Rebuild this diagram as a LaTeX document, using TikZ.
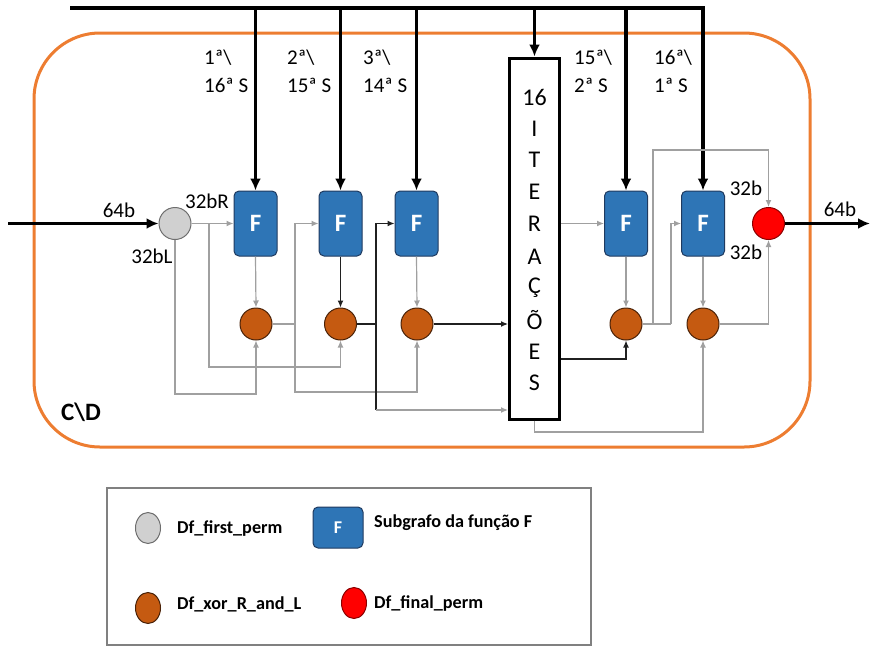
\documentclass[tikz,border=0pt]{standalone}
\usepackage{fontspec}
\setmainfont{Carlito}
\usetikzlibrary{arrows.meta,shapes.geometric}
\definecolor{orng}{HTML}{ED7D31}
\definecolor{fblue}{HTML}{2E75B6}
\definecolor{fborder}{HTML}{1F3A5F}
\definecolor{xorc}{HTML}{C55A11}
\definecolor{xorb}{HTML}{4A2208}
\definecolor{wire}{HTML}{A0A0A0}
\definecolor{dwire}{HTML}{202020}
\definecolor{gfill}{HTML}{D0D0D0}
\definecolor{gline}{HTML}{6E6E6E}
\definecolor{rborder}{HTML}{8B0000}
\begin{document}
\begin{tikzpicture}[x=1pt,y=-1pt,
  fbox/.style={draw=fborder, fill=fblue, rounded corners=5pt, minimum width=43pt, minimum height=65pt, inner sep=0pt, line width=1pt, text=white, font=\fontsize{25}{27}\selectfont\bfseries},
  xornode/.style={circle, draw=xorb, fill=xorc, minimum size=32pt, inner sep=0pt, line width=1pt},
  permnode/.style={circle, draw=gline, fill=gfill, minimum size=32pt, inner sep=0pt, line width=1pt},
  finalnode/.style={circle, draw=rborder, fill=red, minimum size=32pt, inner sep=0pt, line width=1pt},
  thinwire/.style={draw=wire, line width=1.2pt},
  darkwire/.style={draw=dwire, line width=1.2pt},
  smalltip/.style={-{Latex[length=7pt,width=6pt]}},
  thickarrow/.style={line width=3.2pt, -{Latex[length=12pt,width=11pt]}},
  lbl/.style={font=\fontsize{21}{24}\selectfont, inner sep=0pt},
  slbl/.style={font=\fontsize{21}{28}\selectfont, inner sep=0pt, align=left, anchor=north west},
  itl/.style={font=\fontsize{24}{26}\selectfont, inner sep=0pt},
  legtext/.style={font=\fontsize{18.2}{20}\selectfont\bfseries, inner sep=0pt, anchor=west}
]
\useasboundingbox (0,0) rectangle (870,646);

% outer orange region
\draw[orng, line width=3pt, rounded corners=66pt] (34,33) rectangle (810,447);
\node[font=\fontsize{25}{27}\selectfont\bfseries, inner sep=0pt] (cd) at (81,412) {C\textbackslash D};

% nodes
\node[permnode] (g) at (175,223.5) {};
\node[fbox] (F1) at (255.5,223.5) {F};
\node[fbox] (F2) at (340.5,223.5) {F};
\node[fbox] (F3) at (416.5,223.5) {F};
\node[fbox] (F4) at (626,223.5) {F};
\node[fbox] (F5) at (703,223.5) {F};
\node[xornode] (X1) at (256,324) {};
\node[xornode] (X2) at (340.5,324) {};
\node[xornode] (X3) at (417,324) {};
\node[xornode] (X4) at (626,324) {};
\node[xornode] (X5) at (703,324) {};
\node[finalnode] (r) at (768.5,223.5) {};
\node[draw=black, line width=3pt, minimum width=50pt, minimum height=361pt, inner sep=0pt] (it) at (534.5,238.5) {};
\foreach \t/\yy [count=\k] in {16/97, I/129, T/160, E/192, R/223.5, A/257, Ç/288, Õ/320, E/352, S/383}
  \node[itl] (itl\k) at (534.5,\yy) {\t};

% top bus
\coordinate (busL) at (70,8);
\draw[line width=4pt, line join=miter] (busL) -- (F5.north |- busL) -- ++(0,2);
\draw[thickarrow] (F1.north |- busL) -- (F1.north);
\draw[thickarrow] (F2.north |- busL) -- (F2.north);
\draw[thickarrow] (F3.north |- busL) -- (F3.north);
\draw[thickarrow] (it.north |- busL) -- (it.north);
\draw[thickarrow] (F4.north |- busL) -- (F4.north);
\draw[thickarrow] (F5.north |- busL) -- (F5.north);

% input / output
\coordinate (in) at (8,223.5);
\coordinate (out) at (870,223.5);
\draw[thickarrow] (in) -- (g.west);
\draw[thickarrow] (r.east) -- (out);

% round labels
\node[slbl] (s1) at (204,50) {1ª\textbackslash\\16ª S};
\node[slbl] (s2) at (287,50) {2ª\textbackslash\\15ª S};
\node[slbl] (s3) at (363,50) {3ª\textbackslash\\14ª S};
\node[slbl] (s4) at (574,50) {15ª\textbackslash\\2ª S};
\node[slbl] (s5) at (654,50) {16ª\textbackslash\\1ª S};

% bit labels
\node[lbl] (l64a) at (119,210) {64b};
\node[lbl] (l64b) at (840,209) {64b};
\node[lbl] (l32R) at (207,201) {32bR};
\node[lbl] (l32L) at (152,256) {32bL};
\node[lbl] (l32u) at (746,188) {32b};
\node[lbl] (l32d) at (746,252) {32b};

% junctions
\coordinate (j1) at (209,223.5);
\coordinate (j2) at (295,324);
\coordinate (j3) at (376,324);
\coordinate (j4) at (653,324);
\coordinate (j5) at (671,324);

% wires: first stage
\draw[thinwire, smalltip] (g.east) -- (F1.west);
\draw[thinwire, smalltip] (j1) -- (209,367) -| (X2.south);
\draw[thinwire, smalltip] (g.south) -- (175,394) -| (X1.south);
\draw[thinwire, smalltip] (F1.south) -- (X1.north);
\draw[darkwire, smalltip] (F2.south) -- (X2.north);
\draw[thinwire, smalltip] (F3.south) -- (X3.north);

\draw[thinwire] (X1.east) -- (j2);
\draw[thinwire, smalltip] (j2) |- (F2.west);
\draw[thinwire, smalltip] (j2) -- (295,392) -| (X3.south);

\draw[darkwire] (X2.east) -- (j3);
\draw[darkwire, smalltip] (j3) |- (F3.west);
\draw[darkwire] (j3) -- (376,410);
\draw[thinwire, smalltip] (376,410) -- (it.west |- 0,410);
\draw[darkwire, smalltip] (X3.east) -- (X3.east -| it.west);

% wires: last stages
\draw[thinwire, smalltip] (it.east |- F4.west) -- (F4.west);
\draw[darkwire, smalltip] (it.east |- 0,359) -| (X4.south);
\draw[thinwire, smalltip] (it.south) -- (534.5,432) -| (X5.south);
\draw[thinwire, smalltip] (F4.south) -- (X4.north);
\draw[thinwire, smalltip] (F5.south) -- (X5.north);
\draw[thinwire] (X4.east) -- (j5);
\draw[thinwire, smalltip] (j5) |- (F5.west);
\draw[thinwire, smalltip] (j4) -- (653,150) -| (r.north);
\draw[thinwire, smalltip] (X5.east) -| (r.south);

% legend
\draw[draw=gray, line width=1.3pt] (107,488) rectangle (591,645);
\node[ellipse, draw=gline, fill=gfill, minimum width=25pt, minimum height=31pt, inner sep=0pt, line width=1pt] (lg1) at (148,528) {};
\node[legtext] (lt1) at (177,529) {Df\_first\_perm};
\node[fbox, minimum width=50pt, minimum height=41pt, font=\fontsize{18}{20}\selectfont\bfseries] (lg2) at (338,527.5) {F};
\node[legtext] (lt2) at (374,523) {Subgrafo da função F};
\node[ellipse, draw=xorb, fill=xorc, minimum width=25pt, minimum height=31pt, inner sep=0pt, line width=1pt] (lg3) at (148,608) {};
\node[legtext] (lt3) at (177,604) {Df\_xor\_R\_and\_L};
\node[ellipse, draw=rborder, fill=red, minimum width=25pt, minimum height=31pt, inner sep=0pt, line width=1pt] (lg4) at (354,603) {};
\node[legtext] (lt4) at (374,604) {Df\_final\_perm};
\end{tikzpicture}
\end{document}
